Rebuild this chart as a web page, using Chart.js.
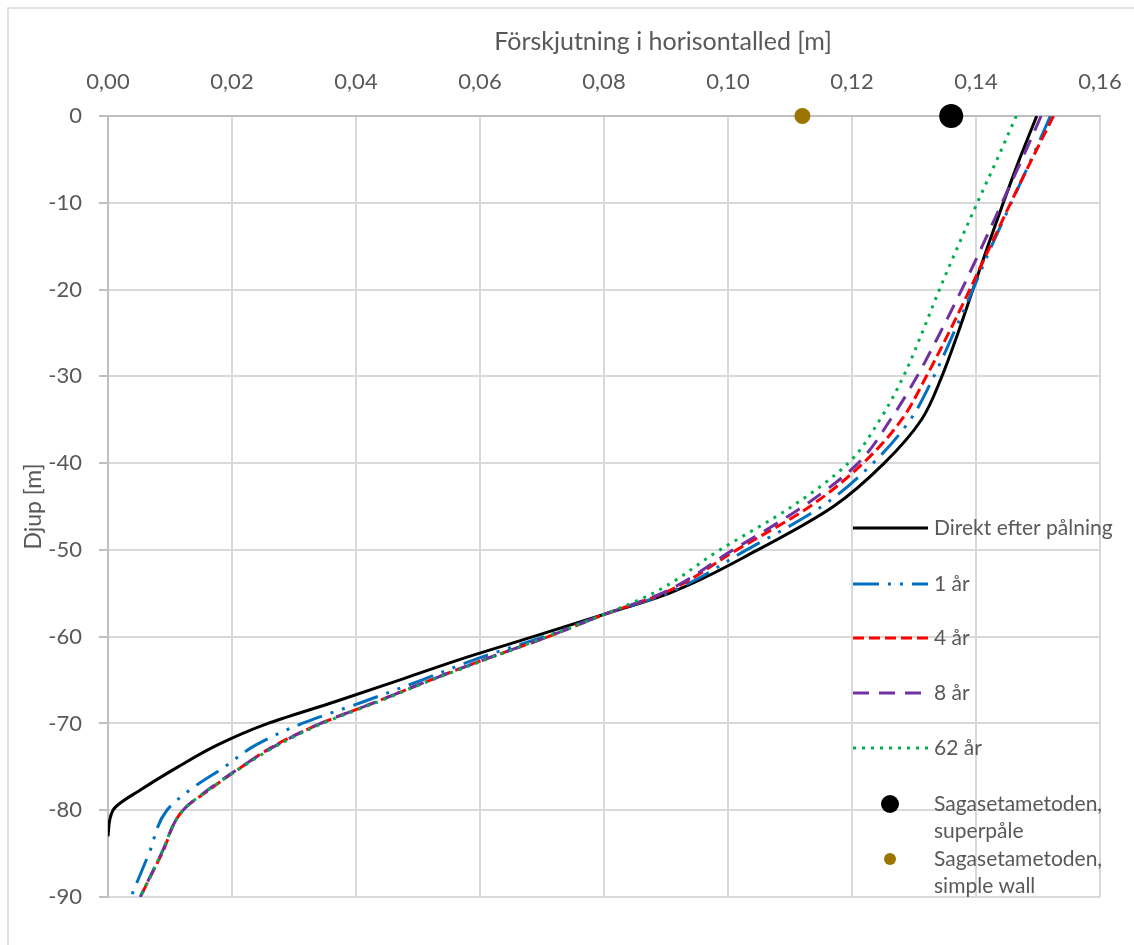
<!DOCTYPE html>
<html>
<head>
<meta charset="utf-8">
<script src="https://cdn.jsdelivr.net/npm/chart.js@4/dist/chart.umd.min.js"></script>
<style>
  html, body { margin: 0; padding: 0; background: #fff; }
  canvas { display: block; }
</style>
</head>
<body>
<canvas id="chart" width="1134" height="945"></canvas>
<script>
// Djup (m) och horisontell förskjutning (m) per kurva
const depthDirekt = [0, -5, -10, -15, -20, -25, -30, -35, -40, -45, -50, -55, -57.5, -60, -62.5, -65, -67.5, -70, -72.5, -75, -77.5, -80, -83];
const direktEfter = [0.1498, 0.147, 0.1444, 0.1419, 0.1395, 0.1371, 0.1345, 0.1312, 0.1252, 0.117, 0.1048, 0.0905, 0.0797, 0.0686, 0.0573, 0.047, 0.0366, 0.0258, 0.0176, 0.0113, 0.0056, 0.0008, 0.0];

const depth = [0, -5, -10, -15, -20, -25, -30, -35, -40, -45, -50, -55, -57.5, -60, -62.5, -65, -67.5, -70, -72.5, -75, -77.5, -80, -85, -90];
const ar1 = [0.152, 0.1489, 0.1457, 0.1425, 0.1395, 0.1364, 0.1332, 0.1294, 0.1234, 0.1151, 0.103, 0.0902, 0.0798, 0.0703, 0.0597, 0.0506, 0.0412, 0.0313, 0.0238, 0.0188, 0.0135, 0.0095, 0.0066, 0.0037];
const ar4 = [0.1525, 0.149, 0.1456, 0.1423, 0.139, 0.1356, 0.132, 0.128, 0.1218, 0.1132, 0.1014, 0.0896, 0.0798, 0.071, 0.0612, 0.052, 0.0433, 0.0343, 0.027, 0.0216, 0.0166, 0.0121, 0.0087, 0.0052];
const ar8 = [0.1505, 0.1474, 0.1442, 0.141, 0.1377, 0.1342, 0.1305, 0.1262, 0.121, 0.1121, 0.1008, 0.0893, 0.0798, 0.071, 0.0612, 0.052, 0.0433, 0.0343, 0.0272, 0.0215, 0.0164, 0.0121, 0.0086, 0.0052];
const ar62 = [0.1465, 0.1434, 0.1402, 0.1371, 0.1341, 0.1313, 0.1283, 0.1245, 0.1194, 0.1103, 0.0987, 0.0879, 0.0798, 0.0708, 0.0615, 0.0522, 0.0436, 0.0346, 0.0274, 0.0217, 0.0165, 0.0121, 0.0086, 0.0052];

// Sagasetametoden, värden vid markytan
const superpaleX = [0.136];
const superpaleY = [0];
const simpleWallX = [0.112];
const simpleWallY = [0];

const FONT = 'Lato, "Liberation Sans", sans-serif';
const TEXT = '#595959';

function pts(xs, ys) {
    return xs.map((x, i) => ({ x: x, y: ys[i] }));
}

function lineSet(label, xs, ys, color, dash, order) {
    return {
        label: label,
        data: pts(xs, ys),
        showLine: true,
        indexAxis: 'y',
        borderColor: color,
        backgroundColor: color,
        borderWidth: 3,
        borderDash: dash,
        pointRadius: 0,
        cubicInterpolationMode: 'monotone',
        order: order
    };
}

// egen förklaring och x-axelns rubrik
const overlay = {
    id: 'overlay',
    beforeDraw(chart) {
        const ctx = chart.ctx;
        ctx.save();
        ctx.strokeStyle = '#d9d9d9';
        ctx.lineWidth = 1.5;
        ctx.strokeRect(8, 8, 1200, 1000);
        ctx.restore();
    },
    afterDraw(chart) {
        const ctx = chart.ctx;
        ctx.save();
        ctx.fillStyle = TEXT;
        ctx.font = '25px ' + FONT;
        ctx.textAlign = 'center';
        ctx.textBaseline = 'middle';
        ctx.fillText('Förskjutning i horisontalled [m]', 663, 42);

        const rows = [528, 584, 638, 693, 748, 804, 859];
        ctx.font = '21px ' + FONT;
        ctx.textAlign = 'left';
        chart.data.datasets.forEach((ds, i) => {
            const y = rows[i];
            if (ds.showLine) {
                ctx.beginPath();
                ctx.strokeStyle = ds.borderColor;
                ctx.lineWidth = ds.borderWidth;
                ctx.setLineDash(ds.borderDash);
                ctx.moveTo(853, y);
                ctx.lineTo(928, y);
                ctx.stroke();
                ctx.setLineDash([]);
                ctx.fillStyle = TEXT;
                ctx.fillText(ds.label, 934, y);
            } else {
                ctx.beginPath();
                ctx.fillStyle = ds.backgroundColor;
                ctx.arc(890, y, ds.legendRadius, 0, Math.PI * 2);
                ctx.fill();
                const parts = ds.label.split(', ');
                ctx.fillStyle = TEXT;
                ctx.fillText(parts[0] + ',', 934, y);
                ctx.fillText(parts[1], 934, y + 27);
            }
        });
        ctx.restore();
    }
};

new Chart(document.getElementById('chart'), {
    type: 'scatter',
    data: {
        datasets: [
            lineSet('Direkt efter pålning', direktEfter, depthDirekt, '#000000', [], 7),
            lineSet('1 år', ar1, depth, '#0070c0', [26, 9, 3, 9, 3, 9], 6),
            lineSet('4 år', ar4, depth, '#ff0000', [11, 5], 5),
            lineSet('8 år', ar8, depth, '#7030a0', [16, 10], 4),
            lineSet('62 år', ar62, depth, '#00b050', [3, 6], 3),
            {
                label: 'Sagasetametoden, superpåle',
                data: pts(superpaleX, superpaleY),
                showLine: false,
                pointRadius: 12,
                pointBorderWidth: 0,
                backgroundColor: '#000000',
                borderColor: '#000000',
                legendRadius: 9,
                clip: false,
                order: 1
            },
            {
                label: 'Sagasetametoden, simple wall',
                data: pts(simpleWallX, simpleWallY),
                showLine: false,
                pointRadius: 8,
                pointBorderWidth: 0,
                backgroundColor: '#9a7500',
                borderColor: '#9a7500',
                legendRadius: 6,
                clip: false,
                order: 0
            }
        ]
    },
    options: {
        responsive: false,
        animation: false,
        layout: { padding: { left: 0, top: 0, right: 34, bottom: 48 } },
        plugins: {
            legend: { display: false },
            tooltip: { enabled: false }
        },
        scales: {
            x: {
                type: 'linear',
                position: 'top',
                min: 0,
                max: 0.16,
                afterFit(scale) {
                    scale.height = 116;
                    scale.paddingLeft = 0;
                    scale.paddingRight = 0;
                },
                ticks: {
                    stepSize: 0.02,
                    padding: 21,
                    color: TEXT,
                    font: { family: FONT, size: 22 },
                    callback: v => v.toFixed(2).replace('.', ',')
                },
                grid: { color: '#d9d9d9', lineWidth: 2, drawTicks: false },
                border: { color: '#bfbfbf', width: 2 }
            },
            y: {
                type: 'linear',
                min: -90,
                max: 0,
                afterFit(scale) { scale.width = 108; },
                ticks: {
                    stepSize: 10,
                    padding: 17,
                    color: TEXT,
                    font: { family: FONT, size: 22 }
                },
                grid: { color: '#d9d9d9', lineWidth: 2, tickLength: 9, tickColor: '#bfbfbf' },
                border: { color: '#bfbfbf', width: 2 },
                title: {
                    display: true,
                    text: 'Djup [m]',
                    color: TEXT,
                    font: { family: FONT, size: 23 },
                    padding: { top: 20, bottom: 0 }
                }
            }
        }
    },
    plugins: [overlay]
});
</script>
</body>
</html>
